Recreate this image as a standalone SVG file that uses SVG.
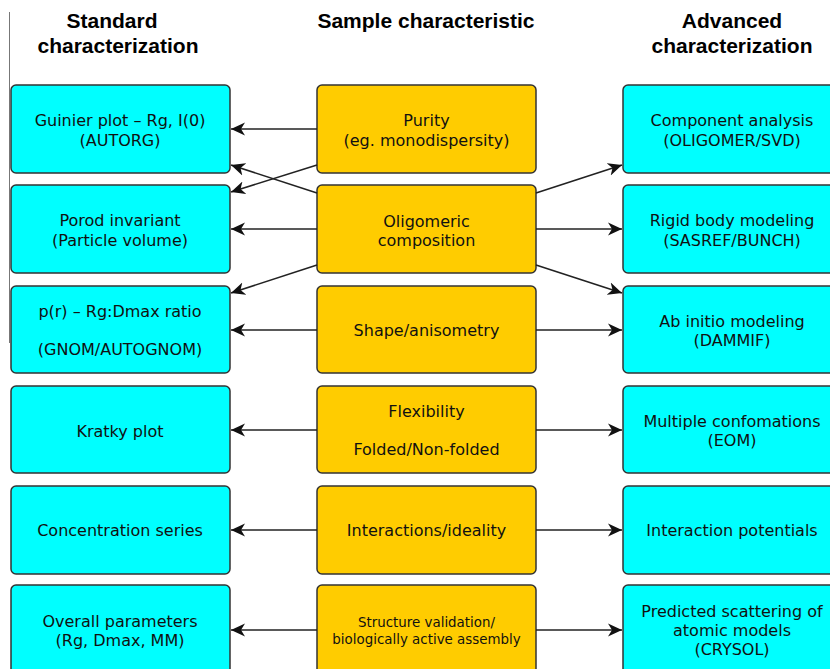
<svg xmlns="http://www.w3.org/2000/svg" width="830" height="669" viewBox="0 0 830 669">
<style>
.hd{font-family:"Liberation Sans",Arial,sans-serif;font-weight:bold;font-size:21px;fill:#000;text-anchor:middle}
.t{font-family:"DejaVu Sans","Noto Sans",sans-serif;font-size:16px;fill:#111;text-anchor:middle}
.ts{font-family:"DejaVu Sans","Noto Sans",sans-serif;font-size:13.4px;fill:#111;text-anchor:middle}
.std rect,.adv rect{fill:#00FFFF;stroke:#333;stroke-width:1.5}
.smp rect{fill:#FFCC00;stroke:#333;stroke-width:1.5}
.c line{stroke:#222;stroke-width:1.6;marker-end:url(#ah)}
</style>
<defs>
<marker id="ah" markerUnits="userSpaceOnUse" markerWidth="16" markerHeight="14" refX="14" refY="7" orient="auto">
<path d="M0,0.5 L14,7 L0,13.5 L4,7 z" fill="#111"/>
</marker>
</defs>
<rect width="830" height="669" fill="#fff"/>
<line x1="9.5" y1="12" x2="9.5" y2="343" stroke="#777" stroke-width="1"/>
<text class="hd" x="112" y="28">Standard</text>
<text class="hd" x="118" y="53">characterization</text>
<text class="hd" x="426" y="28">Sample characteristic</text>
<text class="hd" x="732" y="28">Advanced</text>
<text class="hd" x="732" y="53">characterization</text>

<g id="std1" class="std"><rect x="11" y="85" width="219" height="88" rx="5"/><text class="t" x="120" y="126">Guinier plot – Rg, I(0)</text><text class="t" x="120" y="146">(AUTORG)</text></g>
<g id="std2" class="std"><rect x="11" y="185" width="219" height="88" rx="5"/><text class="t" x="120" y="226">Porod invariant</text><text class="t" x="120" y="246">(Particle volume)</text></g>
<g id="std3" class="std"><rect x="11" y="286" width="219" height="87" rx="5"/><text class="t" x="120" y="317">p(r) – Rg:Dmax ratio</text><text class="t" x="120" y="355">(GNOM/AUTOGNOM)</text></g>
<g id="std4" class="std"><rect x="11" y="386" width="219" height="87" rx="5"/><text class="t" x="120" y="437">Kratky plot</text></g>
<g id="std5" class="std"><rect x="11" y="486" width="219" height="88" rx="5"/><text class="t" x="120" y="536">Concentration series</text></g>
<g id="std6" class="std"><rect x="11" y="585" width="219" height="100" rx="5"/><text class="t" x="120" y="627">Overall parameters</text><text class="t" x="120" y="646">(Rg, Dmax, MM)</text></g>

<g id="smp1" class="smp"><rect x="317" y="85" width="219" height="88" rx="5"/><text class="t" x="426.5" y="126">Purity</text><text class="t" x="426.5" y="146">(eg. monodispersity)</text></g>
<g id="smp2" class="smp"><rect x="317" y="185" width="219" height="88" rx="5"/><text class="t" x="426.5" y="227">Oligomeric</text><text class="t" x="426.5" y="246">composition</text></g>
<g id="smp3" class="smp"><rect x="317" y="286" width="219" height="87" rx="5"/><text class="t" x="426.5" y="336">Shape/anisometry</text></g>
<g id="smp4" class="smp"><rect x="317" y="386" width="219" height="87" rx="5"/><text class="t" x="426.5" y="417">Flexibility</text><text class="t" x="426.5" y="455">Folded/Non-folded</text></g>
<g id="smp5" class="smp"><rect x="317" y="486" width="219" height="88" rx="5"/><text class="t" x="426.5" y="536">Interactions/ideality</text></g>
<g id="smp6" class="smp"><rect x="317" y="585" width="219" height="100" rx="5"/><text class="ts" x="426.5" y="627">Structure validation/</text><text class="ts" x="426.5" y="644">biologically active assembly</text></g>

<g id="adv1" class="adv"><rect x="623" y="85" width="230" height="88" rx="5"/><text class="t" x="732" y="126">Component analysis</text><text class="t" x="732" y="146">(OLIGOMER/SVD)</text></g>
<g id="adv2" class="adv"><rect x="623" y="185" width="230" height="88" rx="5"/><text class="t" x="732" y="226">Rigid body modeling</text><text class="t" x="732" y="246">(SASREF/BUNCH)</text></g>
<g id="adv3" class="adv"><rect x="623" y="286" width="230" height="87" rx="5"/><text class="t" x="732" y="327">Ab initio modeling</text><text class="t" x="732" y="346">(DAMMIF)</text></g>
<g id="adv4" class="adv"><rect x="623" y="386" width="230" height="87" rx="5"/><text class="t" x="732" y="427">Multiple confomations</text><text class="t" x="732" y="446">(EOM)</text></g>
<g id="adv5" class="adv"><rect x="623" y="486" width="230" height="88" rx="5"/><text class="t" x="732" y="536">Interaction potentials</text></g>
<g id="adv6" class="adv"><rect x="623" y="585" width="230" height="100" rx="5"/><text class="t" x="732" y="617">Predicted scattering of</text><text class="t" x="732" y="636">atomic models</text><text class="t" x="732" y="655">(CRYSOL)</text></g>

<g id="connectors" class="c">
<line x1="317" y1="129" x2="231" y2="129"/>
<line x1="317" y1="165" x2="231" y2="192"/>
<line x1="317" y1="193" x2="231" y2="165"/>
<line x1="317" y1="229" x2="231" y2="229"/>
<line x1="317" y1="265" x2="231" y2="293"/>
<line x1="536" y1="193" x2="622" y2="165"/>
<line x1="536" y1="229" x2="622" y2="229"/>
<line x1="536" y1="265" x2="622" y2="293"/>
<line x1="317" y1="330" x2="231" y2="330"/>
<line x1="536" y1="330" x2="622" y2="330"/>
<line x1="317" y1="430" x2="231" y2="430"/>
<line x1="536" y1="430" x2="622" y2="430"/>
<line x1="317" y1="530" x2="231" y2="530"/>
<line x1="536" y1="530" x2="622" y2="530"/>
<line x1="317" y1="630" x2="231" y2="630"/>
<line x1="536" y1="630" x2="622" y2="630"/>
</g>
</svg>
